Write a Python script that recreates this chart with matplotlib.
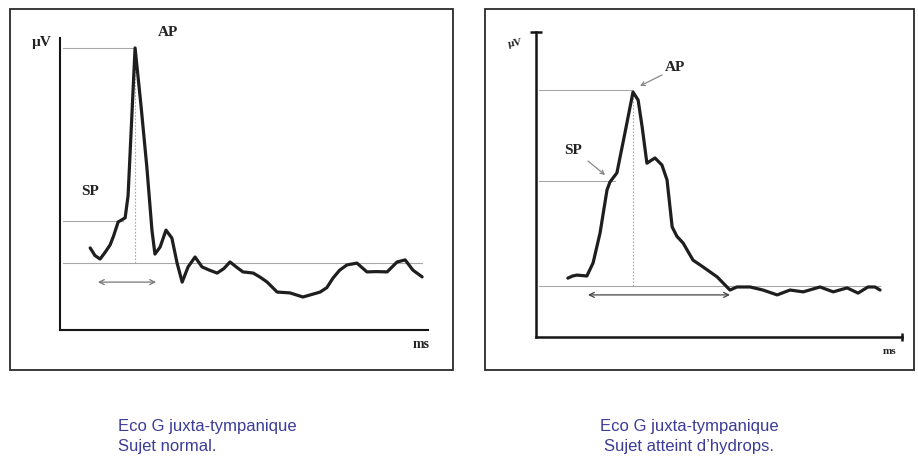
import matplotlib
matplotlib.use("Agg")
import matplotlib.pyplot as plt
from matplotlib.patches import Rectangle

# ---------------- data ----------------
# Left panel: normal subject (x: ms, y: µV, arbitrary units 0..10)
normal_t = [0.82, 0.95, 1.09, 1.22, 1.36, 1.45, 1.58, 1.77, 1.85, 2.04, 2.20,
            2.36, 2.50, 2.58, 2.72, 2.88, 3.04, 3.18, 3.32, 3.48, 3.67, 3.86,
            4.06, 4.27, 4.45, 4.62, 4.80, 4.97, 5.25, 5.45, 5.63, 5.90, 6.25,
            6.60, 6.85, 7.07, 7.25, 7.42, 7.60, 7.80, 8.07, 8.34, 8.60, 8.89,
            9.16, 9.38, 9.59, 9.84]
normal_v = [2.81, 2.55, 2.43, 2.65, 2.91, 3.20, 3.70, 3.84, 4.60, 9.66, 7.70,
            5.58, 3.40, 2.60, 2.84, 3.42, 3.15, 2.30, 1.64, 2.16, 2.50, 2.16,
            2.05, 1.95, 2.10, 2.33, 2.15, 1.99, 1.95, 1.80, 1.64, 1.30, 1.27,
            1.13, 1.22, 1.30, 1.45, 1.78, 2.05, 2.23, 2.29, 1.99, 2.00, 1.99,
            2.33, 2.40, 2.05, 1.82]
normal_ap = 9.66          # AP amplitude
normal_sp = 3.73          # SP amplitude
normal_base = 2.29        # baseline
normal_ap_t = 2.04        # AP latency
normal_arrow = (1.03, 2.61, 1.64)   # interval start, end, level

# Right panel: subject with hydrops
hydrops_t = [0.87, 1.00, 1.12, 1.39, 1.56, 1.75, 1.94, 2.02, 2.21, 2.43, 2.65,
             2.79, 2.90, 3.03, 3.25, 3.44, 3.58, 3.72, 3.85, 4.02, 4.29, 4.56,
             4.95, 5.30, 5.49, 5.85, 6.20, 6.59, 6.94, 7.30, 7.76, 8.12, 8.50,
             8.80, 9.07, 9.26, 9.40]
hydrops_v = [1.93, 2.00, 2.03, 2.00, 2.43, 3.41, 4.82, 5.08, 5.38, 6.69, 8.03,
             7.77, 6.89, 5.70, 5.87, 5.64, 5.15, 3.61, 3.30, 3.08, 2.52, 2.30,
             1.97, 1.54, 1.64, 1.64, 1.54, 1.38, 1.54, 1.48, 1.64, 1.48, 1.61,
             1.44, 1.64, 1.64, 1.54]
hydrops_ap = 8.10
hydrops_sp = 5.11
hydrops_base = 1.67
hydrops_ap_t = 2.65
hydrops_arrow = (1.42, 5.30, 1.38)

captions_left = ["Eco G juxta-tympanique", "Sujet normal."]
captions_right = ["Eco G juxta-tympanique", "Sujet atteint d\u2019hydrops."]

# ---------------- figure ----------------
W, H = 918, 458
fig = plt.figure(figsize=(W / 100, H / 100), dpi=100)
fig.patch.set_facecolor("white")

def fx(px):
    return px / W

def fy(py):
    return 1 - py / H

# panel frames
for (x0, y0, x1, y1) in [(10, 9, 453, 370), (485, 9, 914, 370)]:
    fig.patches.append(Rectangle((fx(x0), fy(y1)), fx(x1) - fx(x0), fy(y0) - fy(y1),
                                 transform=fig.transFigure, fill=False,
                                 edgecolor="#2a2a2a", linewidth=1.3))

serif = ["Liberation Serif", "DejaVu Serif"]
trace_col = "#1e1e1e"
ref_col = "#a8a8a8"

def panel(rect, t, v, ap, sp, base, ap_t, arrow, right=False):
    ax = fig.add_axes(rect)
    ax.set_xlim(0, 10)
    ax.set_ylim(0, 10)
    for s in ["top", "right"]:
        ax.spines[s].set_visible(False)
    for s in ["left", "bottom"]:
        ax.spines[s].set_linewidth(1.8 if right else 1.5)
        ax.spines[s].set_color("#151515")
    ax.set_xticks([])
    ax.set_yticks([])
    ax.patch.set_alpha(0)
    # reference lines
    ax.plot([0.08, ap_t], [ap, ap], color=ref_col, lw=0.8)
    sp_end = [tt for tt, vv in zip(t, v) if vv >= sp][0]
    ax.plot([0.08, sp_end - 0.05], [sp, sp], color=ref_col, lw=0.8)
    ax.plot([0.08, t[-1]], [base, base], color=ref_col, lw=0.8)
    ax.plot([ap_t, ap_t], [base, ap], color=ref_col, lw=0.8, ls=(0, (1.5, 1.5)))
    # interval arrow
    a0, a1, lvl = arrow
    ax.annotate("", xy=(a1, lvl), xytext=(a0, lvl),
                arrowprops=dict(arrowstyle="<->", color="#777777" if not right else "#444444",
                                lw=0.9, shrinkA=0, shrinkB=0,
                                mutation_scale=9))
    # trace
    ax.plot(t, v, color=trace_col, lw=2.3, solid_joinstyle="round",
            solid_capstyle="round")
    return ax

axL = panel([fx(60), fy(330), fx(428) - fx(60), fy(38) - fy(330)],
            normal_t, normal_v, normal_ap, normal_sp, normal_base,
            normal_ap_t, normal_arrow)
axL.text(-0.49, 9.86, "\u00b5V", fontsize=11, fontweight="bold", family=serif,
         color="#222222", ha="center", va="center", clip_on=False)
axL.text(2.93, 10.2, "AP", fontsize=11, fontweight="bold", family=serif,
         color="#222222", ha="center", va="center", clip_on=False)
axL.text(0.82, 4.73, "SP", fontsize=11, fontweight="bold", family=serif,
         color="#222222", ha="center", va="center", clip_on=False)
axL.text(9.81, -0.51, "ms", fontsize=10, fontweight="bold", family=serif,
         color="#222222", ha="center", va="center", clip_on=False)

axR = panel([fx(536), fy(337), fx(902) - fx(536), fy(32) - fy(337)],
            hydrops_t, hydrops_v, hydrops_ap, hydrops_sp, hydrops_base,
            hydrops_ap_t, hydrops_arrow, right=True)
# small end caps of the axes
axR.plot([0], [10], marker="_", ms=8, mew=1.8, color="#151515", clip_on=False)
axR.plot([10], [0], marker="|", ms=6, mew=1.8, color="#151515", clip_on=False)
axR.text(-0.57, 9.64, "\u00b5V", fontsize=8, fontweight="bold", family=serif,
         color="#222222", ha="center", va="center", clip_on=False, rotation=10)
axR.text(3.80, 8.85, "AP", fontsize=11, fontweight="bold", family=serif,
         color="#222222", ha="center", va="center", clip_on=False)
axR.text(1.01, 6.13, "SP", fontsize=11, fontweight="bold", family=serif,
         color="#222222", ha="center", va="center", clip_on=False)
axR.text(9.67, -0.49, "ms", fontsize=8, fontweight="bold", family=serif,
         color="#222222", ha="center", va="center", clip_on=False)
axR.annotate("", xy=(2.84, 8.23), xytext=(3.44, 8.59),
             arrowprops=dict(arrowstyle="->", color="#888888", lw=0.9,
                             shrinkA=0, shrinkB=0, mutation_scale=7))
axR.annotate("", xy=(1.89, 5.31), xytext=(1.42, 5.77),
             arrowprops=dict(arrowstyle="->", color="#888888", lw=0.9,
                             shrinkA=0, shrinkB=0, mutation_scale=7))

# captions
cap_col = "#3b3b98"
sans = ["Liberation Sans", "DejaVu Sans"]
for i, line in enumerate(captions_left):
    fig.text(fx(118), fy(427 + 20 * i), line, fontsize=12, family=sans,
             color=cap_col, ha="left", va="center")
for i, line in enumerate(captions_right):
    fig.text(fx(689), fy(427 + 20 * i), line, fontsize=12, family=sans,
             color=cap_col, ha="center", va="center")

fig.savefig("out.png", dpi=100, facecolor="white")
